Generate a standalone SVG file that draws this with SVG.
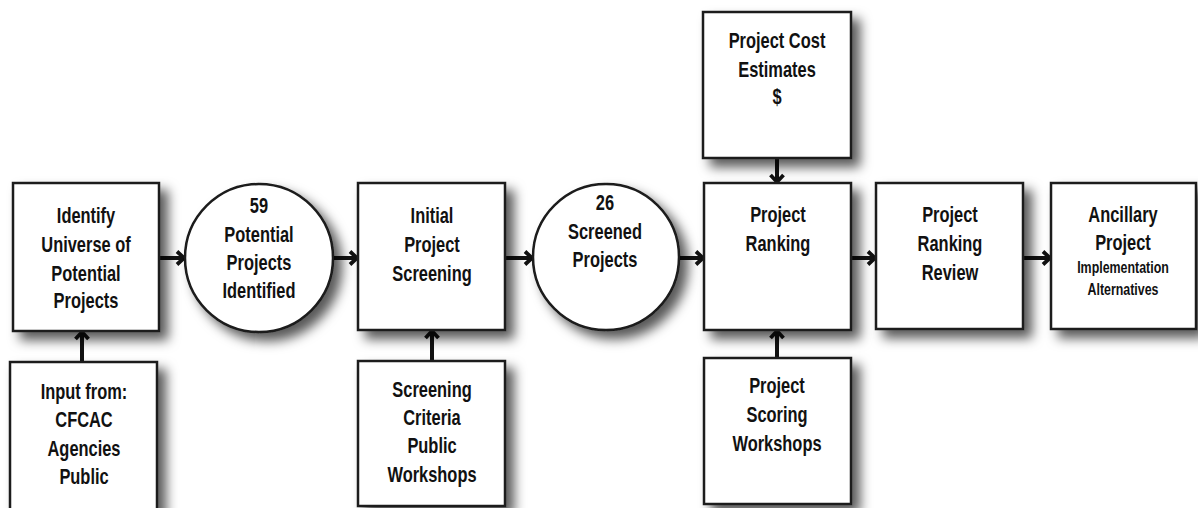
<svg xmlns="http://www.w3.org/2000/svg" width="1198" height="508" viewBox="0 0 1198 508">
<defs>
<filter id="sh" x="-20%" y="-20%" width="150%" height="150%">
<feDropShadow dx="8" dy="8" stdDeviation="6" flood-color="#000" flood-opacity="0.65"/>
</filter>
<marker id="ah" markerUnits="userSpaceOnUse" markerWidth="14" markerHeight="18" viewBox="0 0 14 18" refX="11" refY="9" orient="auto">
<path d="M3,2.5 L10,9 L3,15.5" fill="none" stroke="#111" stroke-width="3.8" stroke-linejoin="miter"/>
</marker>
<style>
.n{fill:#fff;stroke:#1a1a1a;stroke-width:2.5;filter:url(#sh)}
.t{font-family:"Liberation Sans",Arial,sans-serif;font-weight:bold;font-size:22.5px;text-anchor:middle;fill:#111}
.s{font-size:17px}
.c{stroke:#111;stroke-width:4;fill:none;marker-end:url(#ah)}
</style>
</defs>
<rect width="1198" height="508" fill="#fff"/>
<g id="connectors">
<line class="c" x1="159" y1="258" x2="185" y2="258"/>
<line class="c" x1="333" y1="258" x2="358" y2="258"/>
<line class="c" x1="505" y1="258" x2="533" y2="258"/>
<line class="c" x1="679" y1="258" x2="704" y2="258"/>
<line class="c" x1="851" y1="258" x2="876" y2="258"/>
<line class="c" x1="1023" y1="258" x2="1051" y2="258"/>
<line class="c" x1="82" y1="362" x2="82" y2="331"/>
<line class="c" x1="432" y1="361" x2="432" y2="330"/>
<line class="c" x1="777" y1="158" x2="777" y2="183"/>
<line class="c" x1="777" y1="358" x2="777" y2="330"/>
</g>
<g id="identify">
<rect class="n" x="13" y="183" width="146" height="148"/>
<g class="t" transform="translate(86,0) scale(0.73,1)">
<text y="223">Identify</text><text y="252">Universe of</text><text y="281">Potential</text><text y="308">Projects</text>
</g>
</g>
<g id="input">
<rect class="n" x="10" y="362" width="147" height="152"/>
<g class="t" transform="translate(84,0) scale(0.73,1)">
<text y="399">Input from:</text><text y="427">CFCAC</text><text y="456">Agencies</text><text y="484">Public</text>
</g>
</g>
<g id="potential">
<circle class="n" cx="259" cy="258" r="74"/>
<g class="t" transform="translate(259,0) scale(0.73,1)">
<text y="213">59</text><text y="242">Potential</text><text y="270">Projects</text><text y="298">Identified</text>
</g>
</g>
<g id="screening">
<rect class="n" x="358" y="183" width="147" height="147"/>
<g class="t" transform="translate(432,0) scale(0.73,1)">
<text y="223">Initial</text><text y="252">Project</text><text y="281">Screening</text>
</g>
</g>
<g id="criteria">
<rect class="n" x="358" y="361" width="147" height="145"/>
<g class="t" transform="translate(432,0) scale(0.73,1)">
<text y="397">Screening</text><text y="425">Criteria</text><text y="453">Public</text><text y="482">Workshops</text>
</g>
</g>
<g id="screened">
<circle class="n" cx="606" cy="257" r="73"/>
<g class="t" transform="translate(605,0) scale(0.73,1)">
<text y="210">26</text><text y="239">Screened</text><text y="267">Projects</text>
</g>
</g>
<g id="cost">
<rect class="n" x="703" y="12" width="148" height="146"/>
<g class="t" transform="translate(777,0) scale(0.73,1)">
<text y="48">Project Cost</text><text y="77">Estimates</text><text y="104">$</text>
</g>
</g>
<g id="ranking">
<rect class="n" x="704" y="183" width="147" height="147"/>
<g class="t" transform="translate(778,0) scale(0.73,1)">
<text y="222">Project</text><text y="251">Ranking</text>
</g>
</g>
<g id="scoring">
<rect class="n" x="704" y="358" width="147" height="146"/>
<g class="t" transform="translate(777,0) scale(0.73,1)">
<text y="393">Project</text><text y="422">Scoring</text><text y="451">Workshops</text>
</g>
</g>
<g id="review">
<rect class="n" x="876" y="183" width="147" height="146"/>
<g class="t" transform="translate(950,0) scale(0.73,1)">
<text y="222">Project</text><text y="251">Ranking</text><text y="280">Review</text>
</g>
</g>
<g id="ancillary">
<rect class="n" x="1051" y="183" width="145" height="146"/>
<g class="t" transform="translate(1123,0) scale(0.73,1)">
<text y="222">Ancillary</text><text y="250">Project</text><text class="s" y="273">Implementation</text><text class="s" y="295">Alternatives</text>
</g>
</g>
</svg>
